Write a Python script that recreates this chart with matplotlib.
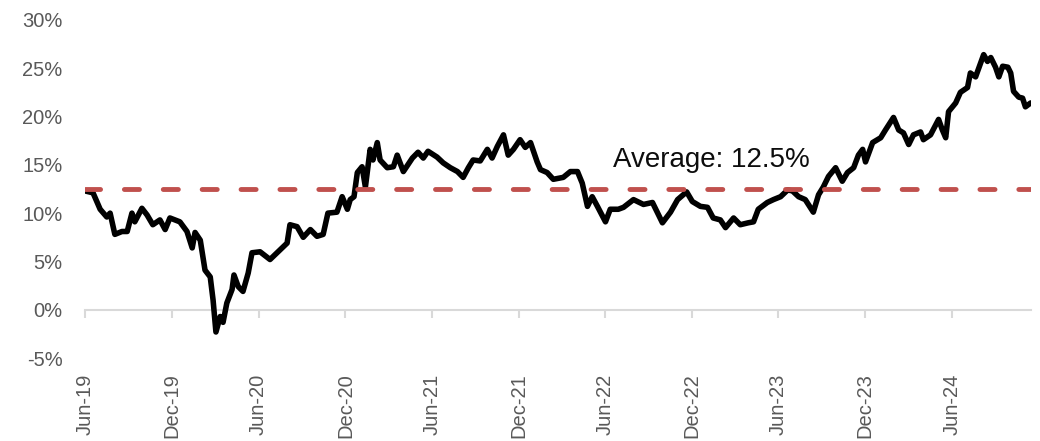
import numpy as np
import pandas as pd
import matplotlib
matplotlib.use("Agg")
import matplotlib.pyplot as plt
import matplotlib.dates as mdates
from matplotlib.ticker import FuncFormatter

plt.rcParams['font.family'] = ['Liberation Sans', 'DejaVu Sans']

# readings (date, % value)
dates = [
    "2019-06-01", "2019-06-18", "2019-07-03", "2019-07-17", "2019-07-24", "2019-08-03",
    "2019-08-18", "2019-08-29", "2019-09-08", "2019-09-14", "2019-09-29", "2019-10-10",
    "2019-10-22", "2019-11-06", "2019-11-17", "2019-11-27", "2019-12-18", "2020-01-02",
    "2020-01-13", "2020-01-19", "2020-01-30", "2020-02-09", "2020-02-20", "2020-02-26",
    "2020-03-03", "2020-03-12", "2020-03-18", "2020-03-26", "2020-04-06", "2020-04-10",
    "2020-04-19", "2020-04-29", "2020-05-10", "2020-05-18", "2020-06-04", "2020-06-25",
    "2020-07-16", "2020-07-31", "2020-08-06", "2020-08-21", "2020-09-03", "2020-09-18",
    "2020-10-02", "2020-10-15", "2020-10-25", "2020-11-13", "2020-11-24", "2020-12-05",
    "2020-12-11", "2020-12-19", "2020-12-26", "2021-01-05", "2021-01-12", "2021-01-22",
    "2021-01-28", "2021-02-06", "2021-02-12", "2021-02-27", "2021-03-12", "2021-03-20",
    "2021-04-02", "2021-04-21", "2021-05-03", "2021-05-14", "2021-05-24", "2021-06-12",
    "2021-06-25", "2021-07-10", "2021-07-25", "2021-08-06", "2021-08-17", "2021-08-27",
    "2021-09-11", "2021-09-26", "2021-10-06", "2021-10-17", "2021-10-30", "2021-11-09",
    "2021-11-20", "2021-12-04", "2021-12-15", "2021-12-26", "2022-01-09", "2022-01-16",
    "2022-01-30", "2022-02-12", "2022-03-05", "2022-03-20", "2022-04-04", "2022-04-14",
    "2022-04-25", "2022-05-05", "2022-05-16", "2022-06-02", "2022-06-12", "2022-06-29",
    "2022-07-10", "2022-07-31", "2022-08-21", "2022-09-09", "2022-09-30", "2022-10-17",
    "2022-11-01", "2022-11-20", "2022-12-02", "2022-12-19", "2023-01-03", "2023-01-15",
    "2023-01-30", "2023-02-10", "2023-02-27", "2023-03-13", "2023-03-30", "2023-04-10",
    "2023-04-20", "2023-05-09", "2023-05-22", "2023-06-06", "2023-06-21", "2023-07-01",
    "2023-07-14", "2023-07-28", "2023-08-14", "2023-08-25", "2023-09-04", "2023-09-15",
    "2023-09-30", "2023-10-14", "2023-10-25", "2023-11-07", "2023-11-17", "2023-11-26",
    "2023-12-02", "2023-12-17", "2024-01-03", "2024-01-13", "2024-01-30", "2024-02-10",
    "2024-02-20", "2024-03-02", "2024-03-12", "2024-03-27", "2024-04-02", "2024-04-17",
    "2024-05-04", "2024-05-12", "2024-05-19", "2024-05-25", "2024-06-09", "2024-06-19",
    "2024-07-04", "2024-07-10", "2024-07-21", "2024-08-07", "2024-08-15", "2024-08-22",
    "2024-09-01", "2024-09-08", "2024-09-16", "2024-09-27", "2024-10-03", "2024-10-09",
    "2024-10-20", "2024-10-28", "2024-11-03", "2024-11-14",
]
values = [
    12.3, 12.1, 10.4, 9.6, 10.0, 7.8,
    8.1, 8.1, 10.0, 9.1, 10.5, 9.8,
    8.8, 9.3, 8.3, 9.5, 9.1, 8.1,
    6.4, 8.0, 7.2, 4.1, 3.4, 1.0,
    -2.3, -0.7, -1.3, 0.7, 2.1, 3.6,
    2.4, 1.9, 3.8, 5.9, 6.0, 5.2,
    6.2, 6.9, 8.8, 8.6, 7.5, 8.3,
    7.6, 7.8, 10.0, 10.1, 11.7, 10.4,
    11.4, 11.7, 14.2, 14.8, 12.7, 16.6,
    15.5, 17.3, 15.5, 14.7, 14.8, 16.0,
    14.3, 15.7, 16.3, 15.7, 16.4, 15.8,
    15.2, 14.7, 14.3, 13.7, 14.7, 15.5,
    15.4, 16.6, 15.7, 16.9, 18.1, 16.0,
    16.6, 17.6, 16.8, 17.3, 15.3, 14.5,
    14.2, 13.5, 13.7, 14.3, 14.3, 13.1,
    10.7, 11.7, 10.7, 9.1, 10.4, 10.4,
    10.6, 11.4, 10.9, 11.1, 9.0, 10.1,
    11.4, 12.2, 11.2, 10.7, 10.6, 9.5,
    9.3, 8.5, 9.5, 8.8, 9.0, 9.1,
    10.4, 11.1, 11.4, 11.7, 12.4, 12.3,
    11.7, 11.4, 10.1, 11.9, 12.7, 13.8,
    14.7, 13.3, 14.2, 14.7, 16.0, 16.6,
    15.3, 17.3, 17.8, 18.6, 19.9, 18.6,
    18.3, 17.1, 18.1, 18.4, 17.6, 18.1,
    19.7, 18.6, 17.8, 20.5, 21.4, 22.5,
    23.0, 24.5, 24.1, 26.4, 25.7, 26.1,
    25.1, 24.1, 25.2, 25.1, 24.5, 22.6,
    22.0, 21.9, 21.0, 21.4,
]
average = 12.5
avg_label = "Average: 12.5%"
label_date = "2022-06-18"
label_y = 14.8

x = pd.to_datetime(dates)

fig = plt.figure(figsize=(10.4, 4.41), dpi=100)
ax = fig.add_axes([0.0817, 0.188, 0.9093, 0.767])

ax.plot(x, values, color='black', lw=4, solid_joinstyle='round', solid_capstyle='round', zorder=3)
ax.axhline(average, color='#C0504D', lw=3.5, dashes=(3.1, 4.9), dash_capstyle='round', zorder=4)
ax.text(pd.Timestamp(label_date), label_y, avg_label, fontsize=20, color='#0d0d0d',
        ha='left', va='baseline')

ax.set_ylim(-5, 30)
ax.set_xlim(x[0], x[-1])
ax.set_yticks(np.arange(-5, 31, 5))
ax.yaxis.set_major_formatter(FuncFormatter(lambda v, p: f"{v:.0f}%"))

loc = mdates.MonthLocator(bymonth=[6, 12], bymonthday=1)
ax.xaxis.set_major_locator(loc)
ax.xaxis.set_major_formatter(mdates.DateFormatter('%b-%y'))
for s in ax.spines.values():
    s.set_visible(False)
ax.tick_params(axis='x', length=0, pad=11, labelsize=14.5, labelcolor='#595959', labelrotation=90)
ax.tick_params(axis='y', length=0, pad=16, labelsize=14.5, labelcolor='#595959')

# zero line with its tick marks
sec = ax.secondary_xaxis((0 - (-5)) / 35)
sec.xaxis.set_major_locator(mdates.MonthLocator(bymonth=[6, 12], bymonthday=1))
sec.set_xticklabels([])
sec.tick_params(axis='x', direction='out', length=5.5, width=1.5, color='#D9D9D9')
sec.spines['bottom'].set_color('#D9D9D9')
sec.spines['bottom'].set_linewidth(1.5)
sec.set_zorder(1)
ax.set_zorder(2)
ax.patch.set_visible(False)

fig.savefig('out.png', dpi=100)
